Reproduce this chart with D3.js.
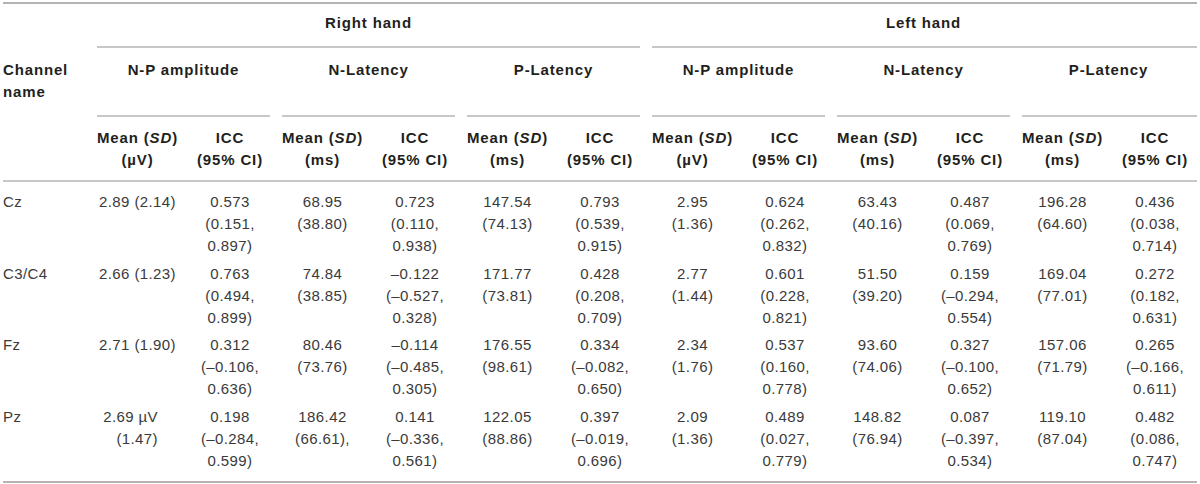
<!DOCTYPE html>
<html lang="en">
<head>
    <meta charset="UTF-8">
    <title>Channel reliability table</title>
    <script src="https://cdn.jsdelivr.net/npm/d3@7/dist/d3.min.js"></script>
    <style>
        body { margin: 0; background: #fff; }
        text { font-family: "Liberation Sans", Arial, sans-serif; font-size: 15px; letter-spacing: 0.4px; }
        .head { font-weight: bold; fill: #231f20; letter-spacing: 0.85px; }
        .cell { fill: #3a3a3a; }
        .rule { stroke: #b4b4b4; stroke-width: 1.5; }
    </style>
</head>
<body>
    <div id="root"></div>
    <script>
        // table content
        const channels = ["Cz", "C3/C4", "Fz", "Pz"];
        const hands = ["Right hand", "Left hand"];
        const measures = ["N-P amplitude", "N-Latency", "P-Latency"];
        const units = ["\u00b5V", "ms", "ms"];

        // each cell is a list of printed lines, one cell per channel
        const rightAmpMean = [["2.89 (2.14)"], ["2.66 (1.23)"], ["2.71 (1.90)"], ["2.69 \u00b5V", "(1.47)"]];
        const rightAmpICC = [["0.573", "(0.151,", "0.897)"], ["0.763", "(0.494,", "0.899)"], ["0.312", "(\u20130.106,", "0.636)"], ["0.198", "(\u20130.284,", "0.599)"]];
        const rightNLatMean = [["68.95", "(38.80)"], ["74.84", "(38.85)"], ["80.46", "(73.76)"], ["186.42", "(66.61),"]];
        const rightNLatICC = [["0.723", "(0.110,", "0.938)"], ["\u20130.122", "(\u20130.527,", "0.328)"], ["\u20130.114", "(\u20130.485,", "0.305)"], ["0.141", "(\u20130.336,", "0.561)"]];
        const rightPLatMean = [["147.54", "(74.13)"], ["171.77", "(73.81)"], ["176.55", "(98.61)"], ["122.05", "(88.86)"]];
        const rightPLatICC = [["0.793", "(0.539,", "0.915)"], ["0.428", "(0.208,", "0.709)"], ["0.334", "(\u20130.082,", "0.650)"], ["0.397", "(\u20130.019,", "0.696)"]];

        const leftAmpMean = [["2.95", "(1.36)"], ["2.77", "(1.44)"], ["2.34", "(1.76)"], ["2.09", "(1.36)"]];
        const leftAmpICC = [["0.624", "(0.262,", "0.832)"], ["0.601", "(0.228,", "0.821)"], ["0.537", "(0.160,", "0.778)"], ["0.489", "(0.027,", "0.779)"]];
        const leftNLatMean = [["63.43", "(40.16)"], ["51.50", "(39.20)"], ["93.60", "(74.06)"], ["148.82", "(76.94)"]];
        const leftNLatICC = [["0.487", "(0.069,", "0.769)"], ["0.159", "(\u20130.294,", "0.554)"], ["0.327", "(\u20130.100,", "0.652)"], ["0.087", "(\u20130.397,", "0.534)"]];
        const leftPLatMean = [["196.28", "(64.60)"], ["169.04", "(77.01)"], ["157.06", "(71.79)"], ["119.10", "(87.04)"]];
        const leftPLatICC = [["0.436", "(0.038,", "0.714)"], ["0.272", "(0.182,", "0.631)"], ["0.265", "(\u20130.166,", "0.611)"], ["0.482", "(0.086,", "0.747)"]];

        const columns = [
            rightAmpMean, rightAmpICC, rightNLatMean, rightNLatICC, rightPLatMean, rightPLatICC,
            leftAmpMean, leftAmpICC, leftNLatMean, leftNLatICC, leftPLatMean, leftPLatICC
        ];

        const width = 1200, height = 484;
        const lineGap = 22;
        const rules = { top: 3, hand: 47, measure: 116, head: 181, bottom: 482 };

        const svg = d3.select('#root').append('svg')
            .attr('width', width)
            .attr('height', height);

        // 6 measure groups (3 per hand)
        const groupKeys = d3.range(hands.length * measures.length);
        const xGroup = d3.scaleBand()
            .domain(groupKeys)
            .range([97, 1195])
            .paddingInner(12 / 185);
        const xSub = d3.scalePoint().domain(["mean", "icc"]).range([40.5, 133]);
        const colX = i => xGroup(Math.floor(i / 2)) + xSub(i % 2 ? "icc" : "mean");

        const yRow = d3.scaleBand()
            .domain(channels)
            .range([rules.head, rules.head + 286]);

        // rules
        const ruleLines = [
            { x1: 3, x2: 1197, y: rules.top, w: 2 },
            { x1: 3, x2: 1197, y: rules.head, w: 1.5 },
            { x1: 3, x2: 1197, y: rules.bottom, w: 2 }
        ];
        hands.forEach((h, hi) => {
            const g0 = hi * measures.length;
            const g1 = g0 + measures.length - 1;
            ruleLines.push({ x1: xGroup(g0), x2: xGroup(g1) + xGroup.bandwidth() + (hi === hands.length - 1 ? 2 : 0), y: rules.hand, w: 1.5 });
        });
        groupKeys.forEach(g => {
            ruleLines.push({ x1: xGroup(g), x2: xGroup(g) + xGroup.bandwidth() + (g === groupKeys.length - 1 ? 2 : 0), y: rules.measure, w: 1.5 });
        });
        svg.selectAll('line.rule')
            .data(ruleLines)
            .enter()
            .append('line')
            .attr('class', 'rule')
            .attr('x1', d => d.x1)
            .attr('x2', d => d.x2)
            .attr('y1', d => d.y)
            .attr('y2', d => d.y)
            .style('stroke-width', d => d.w);

        // header: hands
        svg.selectAll('text.hand')
            .data(hands)
            .enter()
            .append('text')
            .attr('class', 'head hand')
            .attr('text-anchor', 'middle')
            .attr('x', (d, i) => {
                const a = xGroup(i * measures.length);
                const b = xGroup(i * measures.length + measures.length - 1) + xGroup.bandwidth();
                return (a + b) / 2;
            })
            .attr('y', 23)
            .attr('dy', '0.35em')
            .text(d => d);

        // header: channel name
        svg.append('text')
            .attr('class', 'head')
            .selectAll('tspan')
            .data(["Channel", "name"])
            .enter()
            .append('tspan')
            .attr('x', 3)
            .attr('y', (d, i) => 70 + i * lineGap)
            .attr('dy', '0.35em')
            .text(d => d);

        // header: measures
        svg.selectAll('text.measure')
            .data(groupKeys)
            .enter()
            .append('text')
            .attr('class', 'head measure')
            .attr('text-anchor', 'middle')
            .attr('x', g => xGroup(g) + xGroup.bandwidth() / 2)
            .attr('y', 70)
            .attr('dy', '0.35em')
            .text(g => measures[g % measures.length]);

        // header: mean / icc
        const subHead = svg.selectAll('g.sub')
            .data(d3.range(columns.length))
            .enter()
            .append('g')
            .attr('class', 'sub');
        subHead.each(function (i) {
            const t = d3.select(this).append('text')
                .attr('class', 'head')
                .attr('text-anchor', 'middle');
            const m = Math.floor(i / 2) % measures.length;
            if (i % 2 === 0) {
                const l1 = t.append('tspan').attr('x', colX(i)).attr('y', 138).attr('dy', '0.35em');
                l1.append('tspan').text('Mean (');
                l1.append('tspan').style('font-style', 'italic').text('SD');
                l1.append('tspan').text(')');
                t.append('tspan').attr('x', colX(i)).attr('y', 138 + lineGap).attr('dy', '0.35em')
                    .text('(' + units[m] + ')');
            } else {
                t.append('tspan').attr('x', colX(i)).attr('y', 138).attr('dy', '0.35em').text('ICC');
                t.append('tspan').attr('x', colX(i)).attr('y', 138 + lineGap).attr('dy', '0.35em').text('(95% CI)');
            }
        });

        // body: channel labels
        svg.selectAll('text.chan')
            .data(channels)
            .enter()
            .append('text')
            .attr('class', 'cell chan')
            .attr('x', 3)
            .attr('y', d => yRow(d) + 21)
            .attr('dy', '0.35em')
            .text(d => d);

        // body: cells
        const cells = [];
        columns.forEach((col, ci) => {
            col.forEach((lines, ri) => {
                cells.push({ ci, ri, lines });
            });
        });
        svg.selectAll('text.val')
            .data(cells)
            .enter()
            .append('text')
            .attr('class', 'cell val')
            .each(function (d) {
                // the wrapped Pz amplitude cell is set flush right in the original
                const wrapped = d.ci === 0 && d.lines.length > 1;
                const t = d3.select(this)
                    .attr('text-anchor', wrapped ? 'end' : 'middle');
                const x = wrapped ? colX(d.ci) + 20.5 : colX(d.ci);
                t.selectAll('tspan')
                    .data(d.lines)
                    .enter()
                    .append('tspan')
                    .attr('x', x)
                    .attr('y', (l, li) => yRow(channels[d.ri]) + 21 + li * lineGap)
                    .attr('dy', '0.35em')
                    .text(l => l);
            });
    </script>
</body>
</html>
